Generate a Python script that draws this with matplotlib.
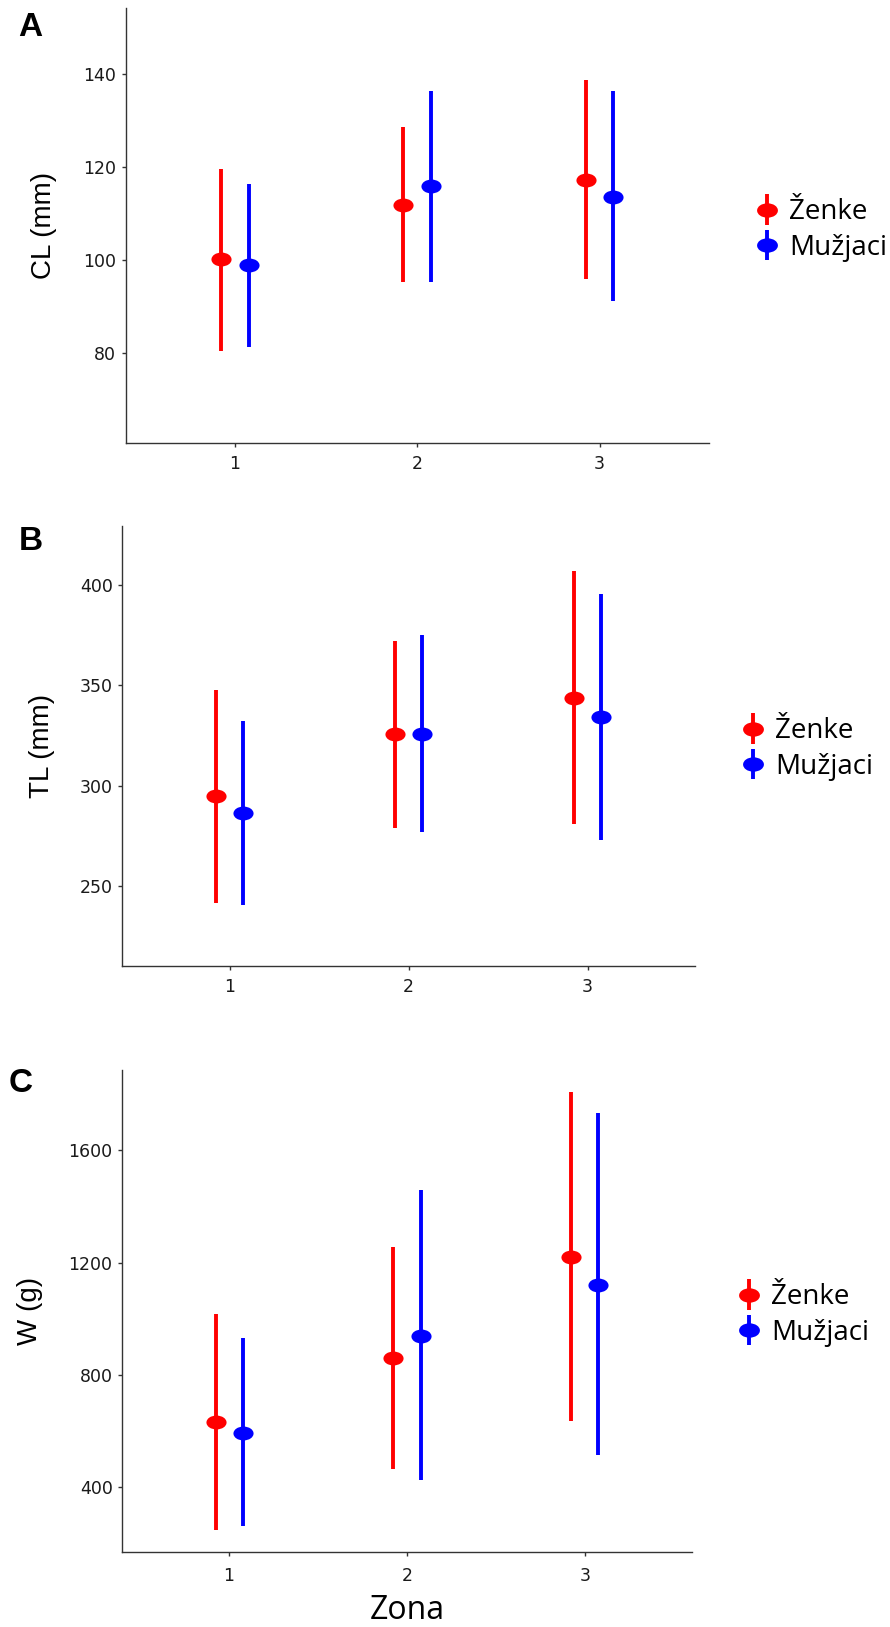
import matplotlib
matplotlib.use("Agg")
import matplotlib.pyplot as plt
from matplotlib.path import Path
from matplotlib.transforms import Affine2D
from matplotlib.legend_handler import HandlerErrorbar
import numpy as np

############
# DATA
############

zones = [1, 2, 3]
labels = ["Ženke", "Mužjaci"]

cl_f = [100.3, 111.9, 117.2]
cl_f_lo = [80.6, 95.3, 95.9]
cl_f_hi = [119.6, 128.7, 138.7]
cl_m = [98.9, 115.9, 113.6]
cl_m_lo = [81.4, 95.3, 91.2]
cl_m_hi = [116.4, 136.4, 136.4]

tl_f = [295.0, 325.6, 344.0]
tl_f_lo = [241.7, 278.7, 281.0]
tl_f_hi = [347.9, 372.1, 407.1]
tl_m = [286.4, 325.9, 334.2]
tl_m_lo = [240.7, 276.7, 272.7]
tl_m_hi = [332.2, 375.3, 395.7]

w_f = [633, 859, 1221]
w_f_lo = [249, 466, 636]
w_f_hi = [1018, 1257, 1810]
w_m = [594, 940, 1121]
w_m_lo = [260, 424, 513]
w_m_hi = [932, 1458, 1733]

############
# STYLE
############

W, H = 890, 1627
tick_font = "DejaVu Sans"
lab_font = "Liberation Sans"
ui_font = "Open Sans"
red = "#ff0000"
blue = "#0000ff"
dodge = 0.076
lw = 2.8

# oval marker, a bit wider than tall
oval = Path.unit_circle().transformed(Affine2D().scale(1.0, 0.69))

fig = plt.figure(figsize=(W / 100, H / 100), dpi=100)


def px_axes(left, right, top, bottom):
    return fig.add_axes([left / W, 1 - bottom / H, (right - left) / W, (bottom - top) / H])


def panel(box, f, f_lo, f_hi, m, m_lo, m_hi, ylim, yticks, ylabel, ypad, letter, letter_xy, leg_xy, xpad):
    ax = px_axes(*box)
    x = np.array(zones, dtype=float)
    handles = []
    for xs, v, lo, hi, c in [(x - dodge, f, f_lo, f_hi, red), (x + dodge, m, m_lo, m_hi, blue)]:
        v = np.array(v)
        err = [v - np.array(lo), np.array(hi) - v]
        ax.errorbar(xs, v, yerr=err, fmt="none", ecolor=c, elinewidth=lw, capsize=0)
        ax.plot(xs, v, linestyle="none", marker=oval, markersize=14.5, color=c, markeredgewidth=0)
        # dummy errorbar only for the legend
        handles.append(ax.errorbar([np.nan], [np.nan], yerr=[1], marker=oval, markersize=15,
                                   color=c, ecolor=c, elinewidth=lw, capsize=0,
                                   markeredgewidth=0, linestyle="none"))
    ax.set_xlim(0.4, 3.6)
    ax.set_ylim(*ylim)
    ax.set_xticks(zones)
    ax.set_xticklabels([str(z) for z in zones], fontfamily=tick_font, fontsize=12.5, color="#1a1a1a")
    ax.set_yticks(yticks)
    ax.set_yticklabels([str(t) for t in yticks], fontfamily=tick_font, fontsize=12.5, color="#1a1a1a")
    ax.tick_params(length=3, width=1, color="#333333", pad=4)
    ax.tick_params(axis="x", pad=xpad)
    for s in ["top", "right"]:
        ax.spines[s].set_visible(False)
    for s in ["left", "bottom"]:
        ax.spines[s].set_color("#333333")
        ax.spines[s].set_linewidth(1.0)
    ax.set_ylabel(ylabel, fontfamily=lab_font, fontsize=20, labelpad=ypad)
    fig.text(letter_xy[0] / W, 1 - letter_xy[1] / H, letter, fontfamily=lab_font,
             fontweight="bold", fontsize=24, ha="center", va="center")
    ax.legend(handles, labels, loc="center left",
              bbox_to_anchor=(leg_xy[0] / W, 1 - leg_xy[1] / H),
              bbox_transform=fig.transFigure, frameon=False,
              prop={"family": ui_font, "size": 20},
              handlelength=0.8, handletextpad=0.4, labelspacing=0.26,
              borderpad=0, borderaxespad=0,
              handler_map={type(handles[0]): HandlerErrorbar(xerr_size=0.5, yerr_size=0.55)})
    return ax


panel((125.7, 709, 8.3, 442.7), cl_f, cl_f_lo, cl_f_hi, cl_m, cl_m_lo, cl_m_hi,
      (60.8, 154.1), [80, 100, 120, 140], "CL (mm)", 19, "A", (30, 27), (756, 230), 6)
panel((122.3, 695, 525.7, 966), tl_f, tl_f_lo, tl_f_hi, tl_m, tl_m_lo, tl_m_hi,
      (210.1, 429.7), [250, 300, 350, 400], "TL (mm)", 18, "B", (31, 541), (742, 749), 6)
axc = panel((122.3, 691.7, 1070.2, 1551.9), w_f, w_f_lo, w_f_hi, w_m, w_m_lo, w_m_hi,
            (169.3, 1886), [400, 800, 1200, 1600], "W (g)", 18, "C", (21, 1083), (738, 1315), 8)
axc.set_xlabel("Zona", fontfamily=ui_font, fontsize=23, labelpad=6)

fig.savefig("out.png", dpi=100)
